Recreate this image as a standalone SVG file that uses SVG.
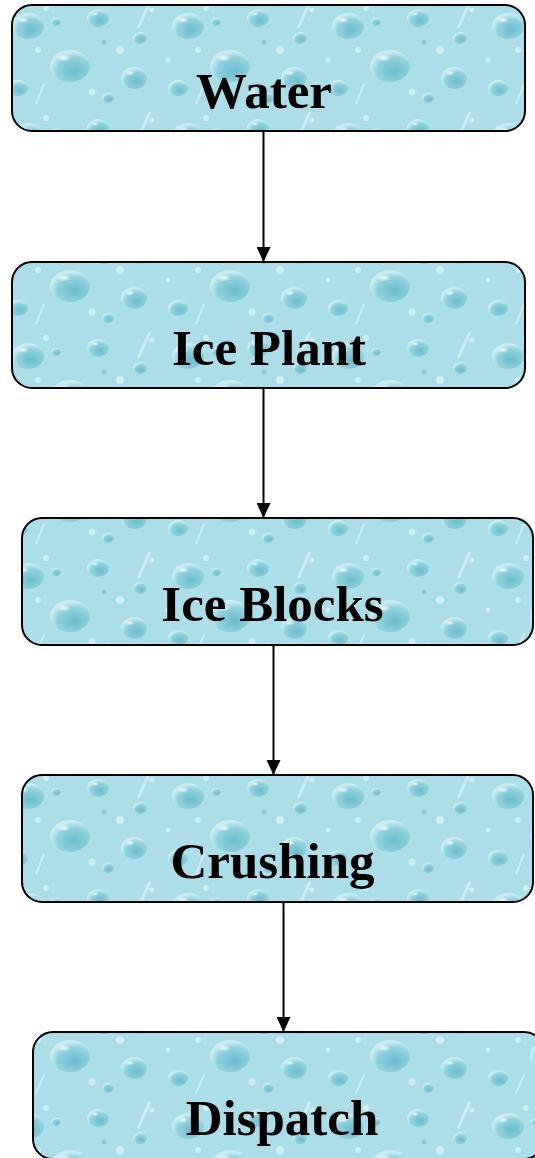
<svg xmlns="http://www.w3.org/2000/svg" width="535" height="1158" viewBox="0 0 535 1158">
<defs>
<radialGradient id="drop" cx="0.6" cy="0.65" r="0.6">
<stop offset="0" stop-color="#6cbccf"/>
<stop offset="0.7" stop-color="#92d1de"/>
<stop offset="1" stop-color="#c8eef3"/>
</radialGradient>
<radialGradient id="hl" cx="0.5" cy="0.5" r="0.5">
<stop offset="0" stop-color="#ffffff" stop-opacity="0.9"/>
<stop offset="1" stop-color="#ffffff" stop-opacity="0"/>
</radialGradient>
<pattern id="water" patternUnits="userSpaceOnUse" width="160" height="110">
<rect width="160" height="110" fill="#abdee8"/>
<ellipse cx="28" cy="26" rx="16" ry="13" fill="url(#drop)"/>
<ellipse cx="23" cy="20" rx="6" ry="3" fill="url(#hl)"/>
<ellipse cx="98" cy="18" rx="11" ry="9" fill="url(#drop)"/>
<ellipse cx="95" cy="14" rx="4" ry="2" fill="url(#hl)"/>
<ellipse cx="70" cy="66" rx="20" ry="16" fill="url(#drop)"/>
<ellipse cx="64" cy="58" rx="7" ry="3.5" fill="url(#hl)"/>
<ellipse cx="134" cy="78" rx="13" ry="11" fill="url(#drop)"/>
<ellipse cx="130" cy="73" rx="5" ry="2.5" fill="url(#hl)"/>
<ellipse cx="18" cy="88" rx="10" ry="8" fill="url(#drop)"/>
<ellipse cx="140" cy="38" rx="7" ry="6" fill="url(#drop)"/>
<ellipse cx="56" cy="22" rx="5" ry="4" fill="url(#drop)"/>
<ellipse cx="108" cy="98" rx="6" ry="5" fill="url(#drop)"/>
<circle cx="46" cy="8" r="3" fill="#cdeff5"/>
<circle cx="120" cy="50" r="4" fill="#cdeff5"/>
<circle cx="104" cy="42" r="2.5" fill="#8acbd9"/>
<circle cx="38" cy="50" r="3" fill="#cdeff5"/>
<circle cx="92" cy="92" r="3.5" fill="#cdeff5"/>
<circle cx="152" cy="10" r="2.5" fill="#cdeff5"/>
<circle cx="8" cy="60" r="2.5" fill="#cdeff5"/>
<path d="M150 2 L138 28" stroke="#d8f4f8" stroke-width="3" opacity="0.7"/>
<path d="M44 84 L36 104" stroke="#d8f4f8" stroke-width="2" opacity="0.7"/>
</pattern>
<marker id="arrow" markerWidth="15" markerHeight="14" refX="15" refY="7" orient="auto" markerUnits="userSpaceOnUse" viewBox="0 0 15 14">
<path d="M0 0 L15 7 L0 14 Z" fill="#000"/>
</marker>
<style>
.box{fill:url(#water);stroke:#000;stroke-width:2}
.lbl{font-family:"Liberation Serif","Times New Roman",serif;font-weight:bold;font-size:51px;fill:#000;text-anchor:middle}
.conn{stroke:#000;stroke-width:2;fill:none}
</style>
</defs>
<rect width="535" height="1158" fill="#fff"/>
<g id="water-node">
<rect class="box" x="12" y="5" width="513" height="126" rx="20" ry="20"/>
<text class="lbl" x="264" y="108">Water</text>
</g>
<g id="ice-plant">
<rect class="box" x="12" y="262" width="513" height="126" rx="20" ry="20"/>
<text class="lbl" x="269" y="365">Ice Plant</text>
</g>
<g id="ice-blocks">
<rect class="box" x="22" y="518" width="511" height="127" rx="20" ry="20"/>
<text class="lbl" x="272.5" y="621">Ice Blocks</text>
</g>
<g id="crushing">
<rect class="box" x="22" y="775" width="511" height="127" rx="20" ry="20"/>
<text class="lbl" x="272.5" y="878">Crushing</text>
</g>
<g id="dispatch">
<rect class="box" x="33" y="1032" width="511" height="127" rx="20" ry="20"/>
<text class="lbl" x="282" y="1135">Dispatch</text>
</g>
<g id="connectors">
<line class="conn" x1="263.5" y1="132" x2="263.5" y2="262" marker-end="url(#arrow)"/>
<line class="conn" x1="263.5" y1="389" x2="263.5" y2="518" marker-end="url(#arrow)"/>
<line class="conn" x1="273.5" y1="646" x2="273.5" y2="775" marker-end="url(#arrow)"/>
<line class="conn" x1="283.5" y1="903" x2="283.5" y2="1032" marker-end="url(#arrow)"/>
</g>
</svg>
